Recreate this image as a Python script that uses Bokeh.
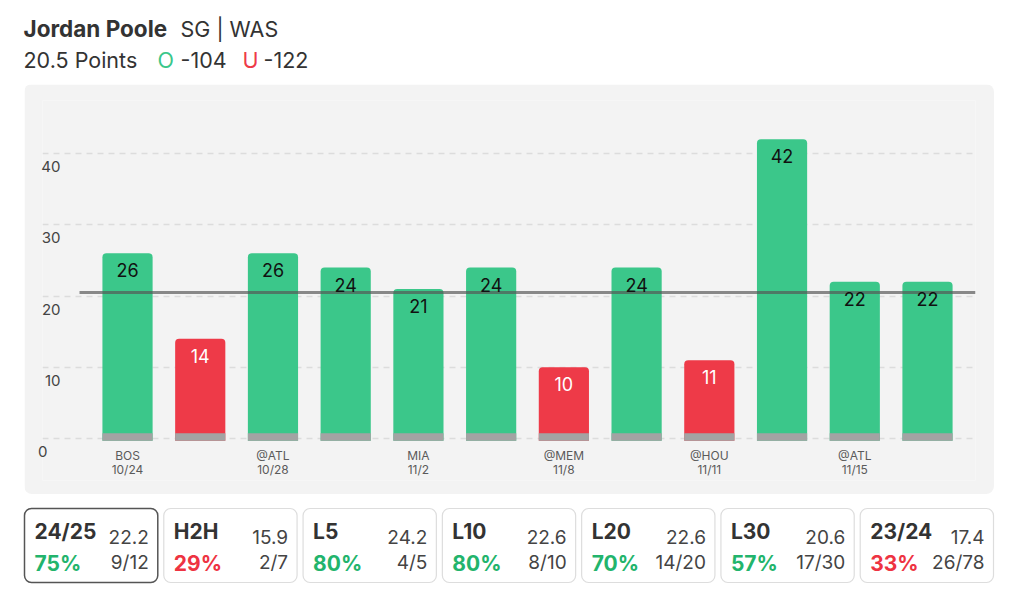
from bokeh.plotting import figure
from bokeh.models import Range1d, LinearAxis, FixedTicker, ColumnDataSource, Spacer
from bokeh.layouts import column, row
from bokeh.core.properties import value
from bokeh.embed import file_html
from bokeh.resources import INLINE

# ---------------- data ----------------
player = "Jordan Poole"
team_pos = "SG | WAS"
prop_label = "20.5 Points"
over_odds = "-104"
under_odds = "-122"
prop_line = 20.5

opponents = ["BOS", "", "@ATL", "", "MIA", "", "@MEM", "", "@HOU", "", "@ATL", ""]
dates = ["10/24", "", "10/28", "", "11/2", "", "11/8", "", "11/11", "", "11/15", ""]
points = [26, 14, 26, 24, 21, 24, 10, 24, 11, 42, 22, 22]
y_ticks = [0, 10, 20, 30, 40]

card_titles = ["24/25", "H2H", "L5", "L10", "L20", "L30", "23/24"]
card_avgs = ["22.2", "15.9", "24.2", "22.6", "22.6", "20.6", "17.4"]
card_pcts = [75, 29, 80, 80, 70, 57, 33]
card_hits = ["9/12", "2/7", "4/5", "8/10", "14/20", "17/30", "26/78"]

# ---------------- style ----------------
FONT = value("Inter")
GREEN = "#3bc78a"
RED = "#ee3a48"
TXT_GREEN = "#22b46c"
TXT_RED = "#ee3342"
DARK = "#333333"
PANEL = "#f3f3f3"

# ---------------- header ----------------
pA = figure(width=1024, height=84, x_range=Range1d(0, 1024), y_range=Range1d(84, 0),
            output_backend="svg", toolbar_location=None,
            x_axis_location=None, y_axis_location=None, min_border=0,
            outline_line_color=None, background_fill_color="white", border_fill_color="white")
pA.grid.visible = False
hdr = dict(text_font=FONT, text_baseline="middle")
pA.text(x=[23], y=[28], text=[player], text_font_size="22.5px",
        text_font_style="bold", text_color=DARK, **hdr)
pA.text(x=[180], y=[28], text=[team_pos], text_font_size="21.5px", text_color=DARK, **hdr)
pA.text(x=[23], y=[59.5], text=[prop_label], text_font_size="21.5px", text_color=DARK, **hdr)
pA.text(x=[157], y=[59.5], text=["O"], text_font_size="21.5px", text_color=GREEN, **hdr)
pA.text(x=[180], y=[59.5], text=[over_odds], text_font_size="21.5px", text_color=DARK, **hdr)
pA.text(x=[242], y=[59.5], text=["U"], text_font_size="21.5px", text_color=RED, **hdr)
pA.text(x=[263], y=[59.5], text=[under_odds], text_font_size="21.5px", text_color=DARK, **hdr)

# ---------------- chart ----------------
n = len(points)
xs = list(range(n))
colors = [GREEN if v > prop_line else RED for v in points]
lab_colors = ["#111111" if v > prop_line else "#ffffff" for v in points]
src = ColumnDataSource(dict(x=xs, top=points, color=colors,
                            lab=[str(v) for v in points], lab_color=lab_colors))

px_per_unit = 7.125
y0, y1 = -5.895, 47.44
pB = figure(width=970, height=410, x_range=Range1d(-1.169, 11.66), y_range=Range1d(y0, y1),
            output_backend="svg", toolbar_location=None, y_axis_location=None,
            min_border_left=18, min_border_right=19, min_border_top=16, min_border_bottom=14,
            background_fill_color=PANEL, border_fill_color=PANEL, outline_line_color=None)
pB.styles = {"border-radius": "8px", "overflow": "hidden"}
pB.xgrid.visible = False
pB.ygrid.ticker = FixedTicker(ticks=y_ticks)
pB.ygrid.grid_line_color = "#dcdcdc"
pB.ygrid.grid_line_width = 1.5
pB.ygrid.grid_line_dash = "6 5"

bw = 0.69
pB.vbar(x="x", top="top", bottom=-0.3, width=bw, fill_color="color", line_color=None,
        border_radius=(4, 4, 0, 0), source=src)
pB.vbar(x="x", top=0.75, bottom=-0.3, width=bw, fill_color="#a3a3a3", line_color=None,
        source=src)
pB.segment(x0=[-0.66], y0=[prop_line], x1=[n - 1 + 0.66], y1=[prop_line],
           line_color="#555555", line_width=3, line_alpha=0.68)
pB.text(x="x", y="top", text="lab", text_color="lab_color", text_align="center",
        text_baseline="middle", y_offset=17, text_font=FONT, text_font_size="18px", source=src)

# y labels: drawn 13px below their gridlines, left-aligned inside the panel
shift = 13 / px_per_unit
pB.extra_y_ranges = {"lab": Range1d(y0 + shift, y1 + shift)}


def make_yaxis(ticks, standoff):
    ax = LinearAxis(y_range_name="lab", ticker=FixedTicker(ticks=ticks))
    ax.axis_line_color = None
    ax.major_tick_line_color = None
    ax.minor_tick_line_color = None
    ax.major_tick_out = 0
    ax.major_tick_in = 0
    ax.major_label_standoff = standoff
    ax.major_label_text_font = "Inter"
    ax.major_label_text_font_size = "15px"
    ax.major_label_text_color = "#444444"
    return ax


pB.add_layout(make_yaxis([t for t in y_ticks if t >= 10], -18), "left")
pB.add_layout(make_yaxis([t for t in y_ticks if t < 10], -9), "left")

xax = pB.xaxis[0]
xax.ticker = FixedTicker(ticks=[i for i in xs if opponents[i]])
xax.major_label_overrides = {i: f"{opponents[i]}\n{dates[i]}" for i in xs if opponents[i]}
xax.axis_line_color = None
xax.major_tick_line_color = None
xax.minor_tick_line_color = None
xax.major_tick_out = 0
xax.major_tick_in = 0
xax.major_label_standoff = -33
xax.major_label_text_line_height = 0.95
xax.major_label_text_font = "Inter"
xax.major_label_text_font_size = "12px"
xax.major_label_text_color = "#5a5a5a"

# ---------------- cards ----------------
pC = figure(width=1024, height=96, x_range=Range1d(0, 1024), y_range=Range1d(590, 494),
            output_backend="svg", toolbar_location=None,
            x_axis_location=None, y_axis_location=None, min_border=0,
            outline_line_color=None, background_fill_color="white", border_fill_color="white")
pC.grid.visible = False
m = len(card_titles)
gap = 6
cw = (969 - gap * (m - 1)) / m
lefts = [24 + i * (cw + gap) for i in range(m)]
rights = [l + cw for l in lefts]
border_cols = ["#555555"] + ["#dddddd"] * (m - 1)
border_w = [1.5] + [1.2] * (m - 1)
pct_cols = [TXT_GREEN if p >= 50 else TXT_RED for p in card_pcts]
csrc = ColumnDataSource(dict(
    left=lefts, right=rights, bc=border_cols, bw=border_w,
    tx=[l + 10 for l in lefts], rx=[r - 9 for r in rights],
    title=card_titles, avg=card_avgs, pct=[f"{p}%" for p in card_pcts], pc=pct_cols,
    hits=card_hits))
pC.quad(left="left", right="right", top=508, bottom=582, fill_color="white",
        line_color="bc", line_width="bw", border_radius=7, source=csrc)
pC.text(x="tx", y=531, text="title", text_font=FONT, text_font_size="21px",
        text_font_style="bold", text_color=DARK, text_baseline="middle", source=csrc)
pC.text(x="rx", y=536, text="avg", text_font=FONT, text_font_size="19px",
        text_color="#444444", text_align="right", text_baseline="middle", source=csrc)
pC.text(x="tx", y=563, text="pct", text_font=FONT, text_font_size="21px",
        text_font_style="bold", text_color="pc", text_baseline="middle", source=csrc)
pC.text(x="rx", y=562, text="hits", text_font=FONT, text_font_size="19px",
        text_color="#444444", text_align="right", text_baseline="middle", source=csrc)

layout = column(pA, row(Spacer(width=24, height=410), pB), pC)
open("out.html", "w").write(file_html(layout, INLINE))
